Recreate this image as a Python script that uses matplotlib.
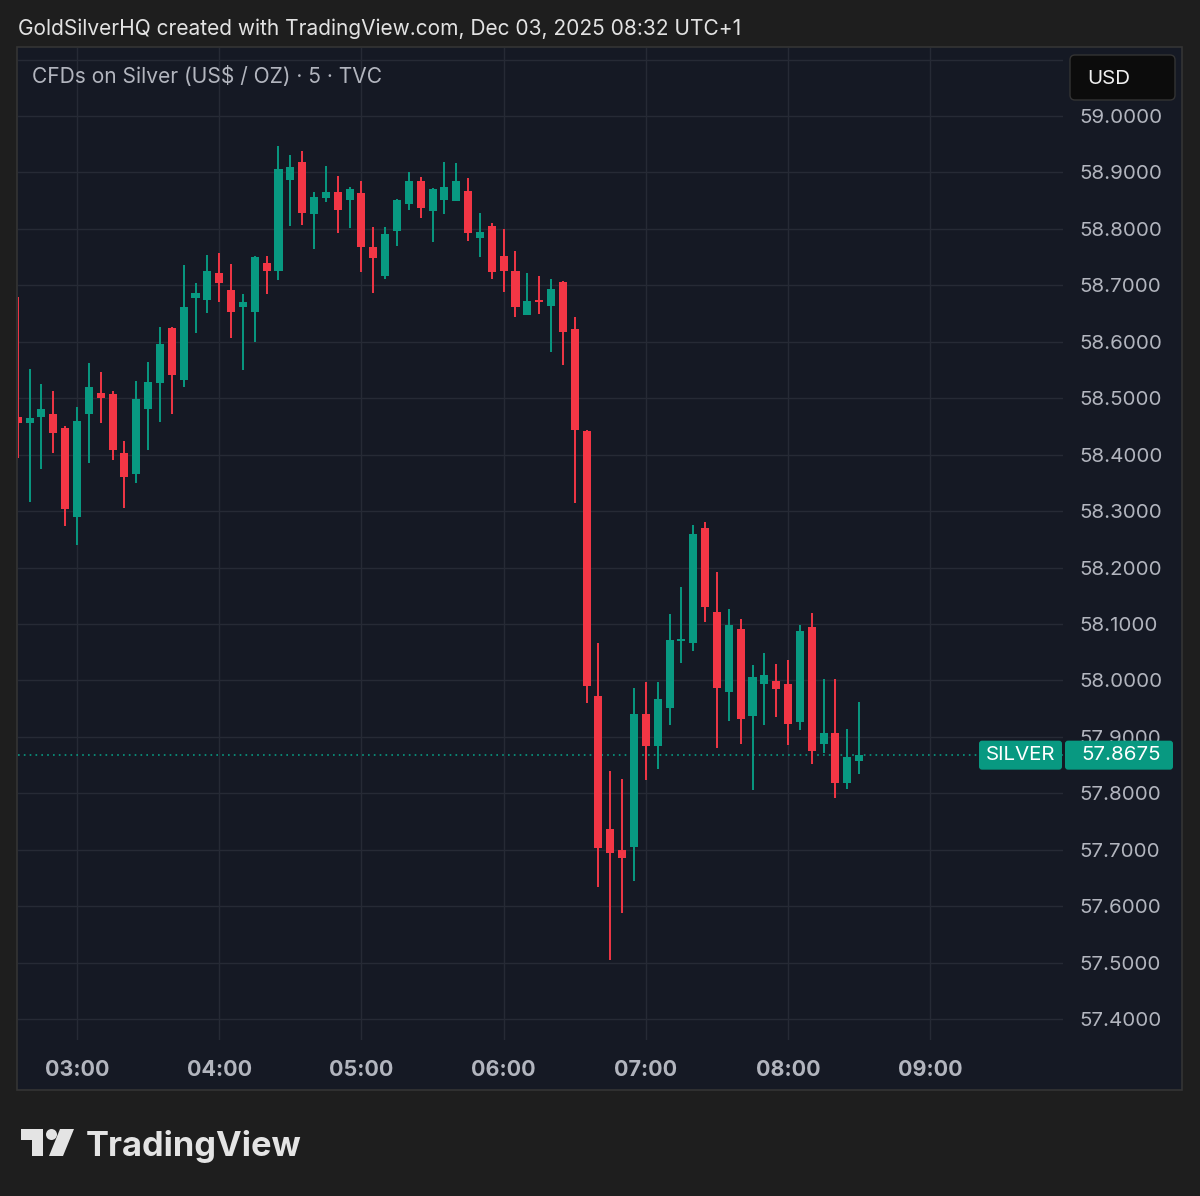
import pandas as pd
import numpy as np
import matplotlib.pyplot as plt
import matplotlib.dates as mdates
from matplotlib.patches import Rectangle, FancyBboxPatch, Polygon, Circle
from matplotlib.transforms import IdentityTransform

plt.rcParams['font.family'] = ['Inter', 'DejaVu Sans']

# 5 min candles, CFDs on Silver, Dec 03 2025
times = pd.date_range('2025-12-03 02:35', periods=72, freq='5min')

opens = [58.467, 58.456, 58.467, 58.472, 58.447, 58.290, 58.472, 58.509, 58.508, 58.403,
         58.366, 58.481, 58.527, 58.624, 58.532, 58.678, 58.674, 58.722, 58.692, 58.662,
         58.653, 58.740, 58.725, 58.887, 58.919, 58.826, 58.855, 58.865, 58.851, 58.864,
         58.768, 58.717, 58.796, 58.844, 58.885, 58.832, 58.851, 58.849, 58.867, 58.784,
         58.805, 58.752, 58.725, 58.647, 58.674, 58.663, 58.706, 58.623, 58.442, 57.973,
         57.737, 57.700, 57.705, 57.941, 57.884, 57.951, 58.070, 58.066, 58.270, 58.121,
         57.980, 58.091, 57.937, 57.994, 57.999, 57.994, 57.926, 58.095, 57.888, 57.907,
         57.818, 57.857]
highs = [58.679, 58.552, 58.525, 58.513, 58.450, 58.484, 58.562, 58.547, 58.513, 58.424,
         58.531, 58.564, 58.626, 58.626, 58.736, 58.704, 58.754, 58.757, 58.738, 58.685,
         58.752, 58.752, 58.947, 58.931, 58.938, 58.865, 58.911, 58.894, 58.875, 58.885,
         58.803, 58.803, 58.853, 58.901, 58.892, 58.872, 58.919, 58.917, 58.890, 58.828,
         58.810, 58.800, 58.761, 58.722, 58.717, 58.711, 58.708, 58.644, 58.444, 58.066,
         57.840, 57.826, 57.987, 57.997, 57.997, 58.118, 58.166, 58.275, 58.281, 58.192,
         58.127, 58.109, 58.027, 58.049, 58.029, 58.036, 58.098, 58.120, 58.003, 58.003,
         57.914, 57.962]
lows = [58.394, 58.316, 58.375, 58.403, 58.274, 58.240, 58.385, 58.456, 58.391, 58.306,
        58.350, 58.408, 58.458, 58.472, 58.520, 58.616, 58.651, 58.670, 58.607, 58.550,
        58.600, 58.685, 58.709, 58.805, 58.807, 58.764, 58.848, 58.793, 58.802, 58.724,
        58.686, 58.711, 58.770, 58.833, 58.819, 58.777, 58.826, 58.849, 58.779, 58.750,
        58.711, 58.688, 58.644, 58.647, 58.649, 58.582, 58.559, 58.314, 57.960, 57.634,
        57.505, 57.588, 57.645, 57.824, 57.843, 57.921, 58.031, 58.052, 58.104, 57.880,
        57.928, 57.888, 57.806, 57.921, 57.935, 57.886, 57.912, 57.852, 57.872, 57.792,
        57.808, 57.834]
closes = [58.456, 58.465, 58.481, 58.438, 58.304, 58.460, 58.520, 58.500, 58.408, 58.361,
          58.499, 58.529, 58.596, 58.541, 58.662, 58.686, 58.725, 58.704, 58.653, 58.670,
          58.750, 58.725, 58.906, 58.910, 58.828, 58.857, 58.865, 58.833, 58.871, 58.768,
          58.748, 58.791, 58.851, 58.885, 58.837, 58.871, 58.874, 58.885, 58.793, 58.795,
          58.724, 58.725, 58.662, 58.672, 58.670, 58.694, 58.617, 58.444, 57.990, 57.703,
          57.694, 57.686, 57.941, 57.884, 57.967, 58.072, 58.074, 58.260, 58.130, 57.987,
          58.098, 57.932, 58.006, 58.010, 57.985, 57.923, 58.088, 57.875, 57.907, 57.818,
          57.864, 57.8675]

price_ticks = [57.4, 57.5, 57.6, 57.7, 57.8, 57.9, 58.0, 58.1, 58.2, 58.3,
               58.4, 58.5, 58.6, 58.7, 58.8, 58.9, 59.0, 59.1]
hour_ticks = ['03:00', '04:00', '05:00', '06:00', '07:00', '08:00', '09:00']

UP = '#089981'
DOWN = '#f23645'
BG = '#151924'
TXT = '#b2b5be'

df = pd.DataFrame({'open': opens, 'high': highs, 'low': lows, 'close': closes}, index=times)
df['color'] = np.where(df['close'] >= df['open'], UP, DOWN)
last = df['close'].iloc[-1]

fig = plt.figure(figsize=(12, 11.96), dpi=100, facecolor='#1e1e1e')
H = 1196

# chart panel
fig.add_artist(Rectangle((17, H - 1090), 1165, 1043, transform=IdentityTransform(),
                         facecolor=BG, edgecolor='#343434', lw=1.2, zorder=-10))

ax = fig.add_axes([18 / 1200, 1 - 1040 / H, 1045 / 1200, 992 / H])
ax.set_facecolor(BG)

x = mdates.date2num(df.index)
w = 3.4 / 1440
body = np.maximum((df['close'] - df['open']).abs(), 0.004)
bottom = np.minimum(df['open'], df['close'])
ax.vlines(x, df['low'], df['high'], colors=df['color'], lw=1.4, zorder=3)
ax.bar(x, body, bottom=bottom, width=w, color=df['color'], zorder=4)

ax.axhline(last, color=UP, ls=(0, (1, 2.5)), lw=1.2, zorder=2)

t0 = pd.Timestamp('2025-12-03 00:00')
ax.set_xlim(mdates.date2num(t0 + pd.Timedelta(minutes=155.1)),
            mdates.date2num(t0 + pd.Timedelta(minutes=596.0)))
ax.set_ylim(57.3628, 59.1205)

ax.set_xticks(mdates.date2num([t0 + pd.Timedelta(h) for h in [s + ':00' for s in hour_ticks]]))
ax.set_xticklabels(hour_ticks, fontweight='bold')
ax.set_yticks(price_ticks)
ax.set_yticklabels([f'{p:.4f}' for p in price_ticks[:-1]] + [''])
ax.yaxis.tick_right()
ax.tick_params(axis='x', length=0, pad=14.5, labelsize=15.5, labelcolor=TXT)
ax.tick_params(axis='y', length=0, pad=12, labelsize=14.8, labelcolor=TXT)
ax.grid(True, color='#262a35', lw=1, zorder=0)
for s in ax.spines.values():
    s.set_visible(False)

# last price labels
fig.canvas.draw()
yl = ax.transData.transform((x[-1], last))[1]
fig.add_artist(FancyBboxPatch((979, yl - 14.5), 83, 29, transform=IdentityTransform(),
                              boxstyle='round,pad=0,rounding_size=3', facecolor=UP,
                              edgecolor='none', zorder=5))
fig.add_artist(FancyBboxPatch((1065, yl - 14.5), 108, 29, transform=IdentityTransform(),
                              boxstyle='round,pad=0,rounding_size=3', facecolor=UP,
                              edgecolor='none', zorder=5))
fig.text(1020.5 / 1200, yl / H, 'SILVER', color='white', fontsize=14.8,
         ha='center', va='center', zorder=6)
fig.text(1121 / 1200, yl / H, f'{last:.4f}', color='white', fontsize=14.8,
         ha='center', va='center', zorder=6)

# currency box
fig.add_artist(FancyBboxPatch((1070, H - 100), 105, 45, transform=IdentityTransform(),
                              boxstyle='round,pad=0,rounding_size=5', facecolor='#0c0c0c',
                              edgecolor='#333333', lw=1, zorder=5))
fig.text(1087 / 1200, 1 - 78.5 / H, 'USD', color='#f0f0f0', fontsize=14.8,
         ha='left', va='center', zorder=6)

fig.text(18 / 1200, 1 - 29 / H, 'GoldSilverHQ created with TradingView.com, Dec 03, 2025 08:32 UTC+1',
         color='#e2e2e2', fontsize=15.05, ha='left', va='center')
fig.text(32 / 1200, 1 - 76 / H, 'CFDs on Silver (US$ / OZ) · 5 · TVC',
         color=TXT, fontsize=15.1, ha='left', va='center')

# TradingView logo
logo = '#e4e4e4'
fig.add_artist(Polygon([(21, H - 1129), (43, H - 1129), (43, H - 1156), (32, H - 1156),
                        (32, H - 1140), (21, H - 1140)], closed=True,
                       transform=IdentityTransform(), facecolor=logo, edgecolor='none'))
fig.add_artist(Circle((51.5, H - 1134.5), 5.5, transform=IdentityTransform(),
                      facecolor=logo, edgecolor='none'))
fig.add_artist(Polygon([(60, H - 1129), (74, H - 1129), (63, H - 1156), (49, H - 1156)],
                       closed=True, transform=IdentityTransform(), facecolor=logo,
                       edgecolor='none'))
fig.text(86 / 1200, 1 - 1156 / H, 'TradingView', color=logo, fontsize=24.8,
         fontweight='bold', ha='left', va='baseline')

fig.savefig('out.png', dpi=100, facecolor=fig.get_facecolor())
